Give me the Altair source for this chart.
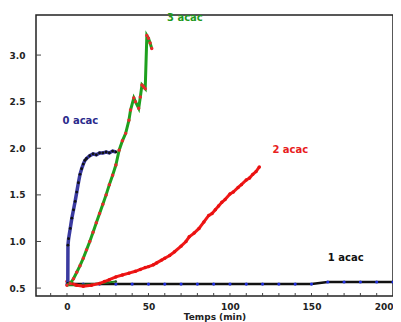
import altair as alt
import pandas as pd

# 0 acac
t0 = [0.5, 0.6, 1, 2, 3, 4, 5, 6, 7, 8, 9, 10, 11, 12, 14, 16, 18, 20, 22, 24, 26, 28, 30]
y0 = [0.55, 0.96, 1.03, 1.14, 1.25, 1.34, 1.43, 1.53, 1.63, 1.72, 1.78, 1.83, 1.87, 1.89, 1.92, 1.94, 1.93, 1.95, 1.95, 1.96, 1.95, 1.97, 1.96]

# 3 acac
t3 = [0, 2, 4, 6, 8, 10, 12, 14, 16, 18, 20, 22, 24, 26, 28, 30, 32, 34, 36, 38, 39, 41, 42, 44, 45, 46, 47, 48, 49, 50, 51, 52]
y3 = [0.53, 0.55, 0.60, 0.67, 0.74, 0.82, 0.91, 1.00, 1.10, 1.20, 1.30, 1.40, 1.50, 1.61, 1.71, 1.82, 1.98, 2.08, 2.16, 2.30, 2.41, 2.54, 2.50, 2.43, 2.55, 2.68, 2.66, 2.64, 3.21, 3.18, 3.13, 3.07]

# 2 acac
t2 = [0, 3, 6, 10, 15, 20, 23, 26, 30, 34, 38, 42, 45, 48, 50, 53, 55, 58, 60, 63, 66, 70, 73, 75, 78, 81, 84, 87, 89, 91, 93, 95, 97, 100, 102, 105, 107, 110, 112, 114, 116, 118]
y2 = [0.57, 0.55, 0.53, 0.52, 0.53, 0.55, 0.57, 0.59, 0.62, 0.64, 0.66, 0.68, 0.70, 0.72, 0.73, 0.75, 0.77, 0.80, 0.82, 0.85, 0.89, 0.95, 1.00, 1.05, 1.09, 1.14, 1.21, 1.28, 1.30, 1.34, 1.38, 1.42, 1.45, 1.51, 1.53, 1.58, 1.61, 1.66, 1.68, 1.72, 1.75, 1.80]

# green baseline
tg = [0, 5, 10, 15, 20, 25, 30]
yg = [0.53, 0.53, 0.535, 0.54, 0.55, 0.56, 0.57]

# 1 acac
t1 = [0, 10, 20, 30, 40, 50, 60, 70, 80, 90, 100, 110, 120, 130, 140, 150, 160, 170, 180, 190, 200]
y1 = [0.543, 0.543, 0.543, 0.543, 0.543, 0.543, 0.543, 0.543, 0.543, 0.543, 0.543, 0.543, 0.543, 0.543, 0.543, 0.543, 0.565, 0.565, 0.565, 0.565, 0.565]

# labels
lab_text = ["0 acac", "3 acac", "2 acac", "1 acac"]
lab_x = [8.2, 72.3, 137, 171]
lab_y = [2.29, 3.40, 1.98, 0.82]
lab_col = ["#2b2b8c", "#1e9a1e", "#e82020", "#111111"]

x_ticks_major = [0, 50, 100, 150, 200]
x_ticks_minor = [-10, 0, 10, 20, 30, 40, 50, 60, 70, 80, 90, 100, 110, 120, 130, 140, 150, 160, 170, 180, 190]
y_ticks = [0.5, 1, 1.5, 2, 2.5, 3]

W, H = 357, 281
xs = alt.Scale(domain=[-19, 200], nice=False, zero=False)
ys = alt.Scale(domain=[0.415, 3.43], nice=False, zero=False)

xax = alt.Axis(values=x_ticks_major, ticks=False, domain=False, grid=False,
               labelFont="DejaVu Sans", labelFontWeight="bold", labelFontSize=9,
               labelColor="#222", labelPadding=6, title="Temps (min)",
               titleFont="DejaVu Sans", titleFontWeight="bold", titleFontSize=9,
               titleColor="#222", titlePadding=1)
yax = alt.Axis(values=y_ticks, ticks=False, domain=False, grid=False,
               labelFont="DejaVu Sans", labelFontWeight="bold", labelFontSize=9,
               labelColor="#222", labelPadding=11, title=None)

def series(t, y, line_color, pt_color, lw, ps):
    df = pd.DataFrame({"t": t, "v": y})
    base = alt.Chart(df)
    line = base.mark_line(color=line_color, strokeWidth=lw).encode(
        x=alt.X("t:Q", scale=xs, axis=xax), y=alt.Y("v:Q", scale=ys, axis=yax))
    pts = base.mark_circle(color=pt_color, size=ps, opacity=1).encode(
        x=alt.X("t:Q", scale=xs), y=alt.Y("v:Q", scale=ys))
    return line + pts

s1 = series(t1, y1, "#111111", "#2030e0", 2.5, 10)
sg = series(tg, yg, "#1e8a1e", "#2a5a2a", 2, 6)
s2 = series(t2, y2, "#f01818", "#e81010", 3, 12)
s0 = series(t0, y0, "#3a3aa0", "#111111", 3.5, 8)
s3 = series(t3, y3, "#1ea01e", "#e82a2a", 3, 12)

ltab = pd.DataFrame({"t": lab_x, "v": lab_y, "txt": lab_text, "c": lab_col})
labels = alt.Chart(ltab).mark_text(font="DejaVu Sans", fontWeight="bold", fontSize=10).encode(
    x=alt.X("t:Q", scale=xs), y=alt.Y("v:Q", scale=ys), text="txt:N",
    color=alt.Color("c:N", scale=None))

xmin = alt.Chart(pd.DataFrame({"t": x_ticks_minor})).mark_rule(color="#444", strokeWidth=1).encode(
    x=alt.X("t:Q", scale=xs), y=alt.value(H), y2=alt.value(H - 3))
ytk = alt.Chart(pd.DataFrame({"v": y_ticks})).mark_rule(color="#444", strokeWidth=1).encode(
    y=alt.Y("v:Q", scale=ys), x=alt.value(0), x2=alt.value(5))

chart = alt.layer(xmin, ytk, s1, sg, s2, s0, s3, labels).properties(
    width=W, height=H,
    autosize=alt.AutoSizeParams(type="none"),
    padding={"left": 28, "top": 7, "right": 0, "bottom": 26},
    background="white",
).configure_view(stroke="#222", strokeWidth=1.5)

chart.save("out.html", embed_options={"renderer": "svg", "actions": False})
